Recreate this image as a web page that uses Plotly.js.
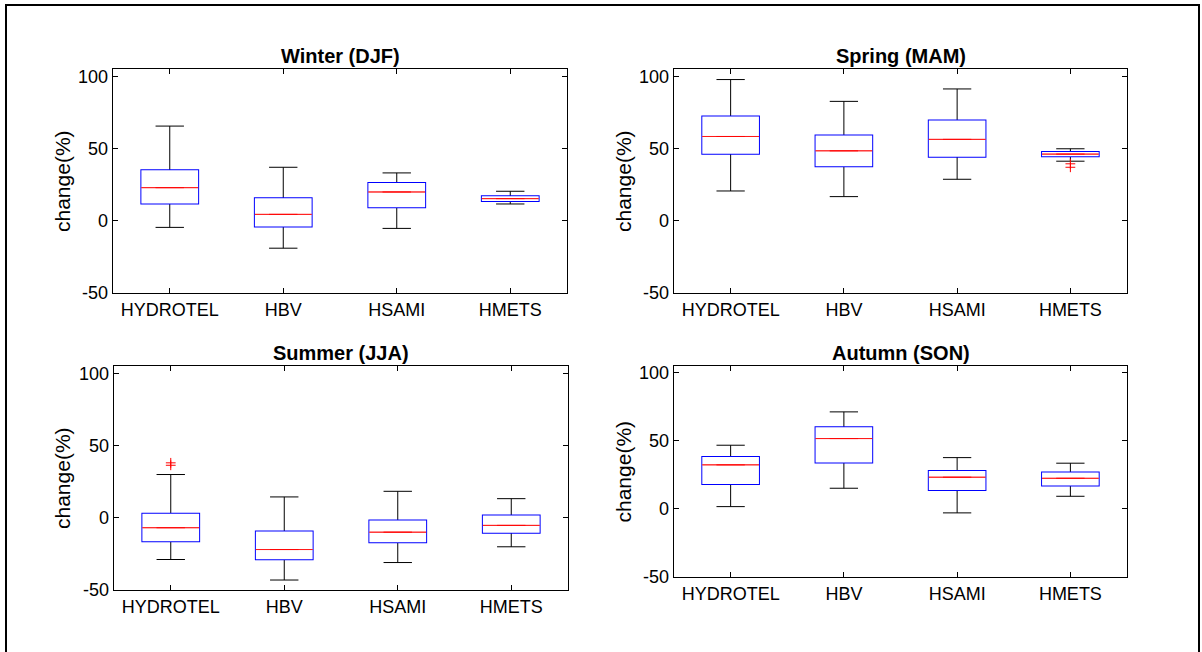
<!DOCTYPE html>
<html>
<head>
<meta charset="utf-8">
<script src="https://cdn.plot.ly/plotly-3.0.1.min.js"></script>
<style>
html,body{margin:0;padding:0;background:#fff;}
#chart{width:1202px;height:652px;}
</style>
</head>
<body>
<div id="chart"></div>
<script>
// ---- data ----
const models = ['HYDROTEL', 'HBV', 'HSAMI', 'HMETS'];
const positions = [1, 2, 3, 4];
const yRange = [-50, 105];
const yTickVals = [-50, 0, 50, 100];
const yTickText = ['-50', '0', '50', '100'];
const seasonTitles = ['Winter (DJF)', 'Spring (MAM)', 'Summer (JJA)', 'Autumn (SON)'];
const yLabel = 'change(%)';

// Winter (DJF)
const winterLow  = [-4.6, -19.0, -5.3, 11.6];
const winterQ1   = [12.0, -3.9, 9.3, 13.7];
const winterMed  = [22.9, 4.4, 19.9, 15.3];
const winterQ3   = [35.0, 15.5, 26.2, 16.9];
const winterHigh = [65.5, 37.0, 33.1, 20.4];
const winterOutX = [];
const winterOutY = [];

// Spring (MAM)
const springLow  = [20.6, 16.7, 28.7, 41.2];
const springQ1   = [46.3, 37.7, 44.2, 44.7];
const springMed  = [58.3, 48.4, 56.3, 46.1];
const springQ3   = [72.2, 59.0, 69.4, 47.5];
const springHigh = [97.7, 82.6, 91.2, 49.8];
const springOutX = [4, 4];
const springOutY = [39.4, 37.0];

// Summer (JJA)
const summerLow  = [-28.9, -43.1, -31.0, -20.1];
const summerQ1   = [-16.2, -28.7, -16.9, -10.4];
const summerMed  = [-6.9, -22.0, -10.0, -5.3];
const summerQ3   = [2.8, -9.5, -1.9, 1.6];
const summerHigh = [29.9, 14.4, 18.3, 13.2];
const summerOutX = [1, 1];
const summerOutY = [38.0, 36.3];

// Autumn (SON)
const autumnLow  = [1.7, 15.2, -2.9, 9.3];
const autumnQ1   = [18.4, 34.1, 14.0, 17.2];
const autumnMed  = [32.4, 51.7, 23.3, 22.5];
const autumnQ3   = [38.2, 60.0, 27.9, 26.7];
const autumnHigh = [46.8, 71.3, 37.7, 33.6];
const autumnOutX = [];
const autumnOutY = [];

// ---- layout geometry (pixels) ----
const W = 1202, H = 652;
const panels = [
  {xa: 'x',  ya: 'y',  left: 113, right: 567,  top: 69,  bottom: 293, ylab: 62},
  {xa: 'x2', ya: 'y2', left: 674, right: 1127, top: 69,  bottom: 293, ylab: 623},
  {xa: 'x3', ya: 'y3', left: 114, right: 568,  top: 366, bottom: 590, ylab: 62},
  {xa: 'x4', ya: 'y4', left: 674, right: 1127, top: 366, bottom: 577, ylab: 623}
];
const seasons = [
  [winterLow, winterQ1, winterMed, winterQ3, winterHigh, winterOutX, winterOutY],
  [springLow, springQ1, springMed, springQ3, springHigh, springOutX, springOutY],
  [summerLow, summerQ1, summerMed, summerQ3, summerHigh, summerOutX, summerOutY],
  [autumnLow, autumnQ1, autumnMed, autumnQ3, autumnHigh, autumnOutX, autumnOutY]
];

const FONT = 'Liberation Sans, Arial, sans-serif';
const traces = [];
const layout = {
  width: W, height: H,
  margin: {l: 0, r: 0, t: 0, b: 0},
  paper_bgcolor: '#fff', plot_bgcolor: '#fff',
  showlegend: false,
  boxmode: 'overlay',
  font: {family: FONT, color: '#000'},
  annotations: [],
  shapes: [{
    type: 'rect', xref: 'paper', yref: 'paper',
    x0: 6 / W, x1: 1199 / W, y0: 1 - 5 / H, y1: -0.05,
    line: {color: '#000', width: 2}, fillcolor: 'rgba(0,0,0,0)', layer: 'above'
  }]
};

panels.forEach((p, i) => {
  const [low, q1, med, q3, high, outX, outY] = seasons[i];
  const common = {
    type: 'box', orientation: 'v', x: positions, xaxis: p.xa, yaxis: p.ya,
    width: 0.5, whiskerwidth: 0.5, hoverinfo: 'skip', boxpoints: false
  };
  // 1) whiskers (black): collapsed box at the median, whiskers out to the fences
  traces.push(Object.assign({}, common, {
    q1: med, median: med, q3: med, lowerfence: low, upperfence: high,
    line: {color: '#000', width: 1}, fillcolor: 'rgba(0,0,0,0)'
  }));
  // 2) box outline (blue); its inner half is hidden by the next layer
  traces.push(Object.assign({}, common, {
    q1: q1, median: med, q3: q3, lowerfence: q1, upperfence: q3,
    line: {color: '#0000ff', width: 2}, fillcolor: '#ffffff'
  }));
  // 3) white interior (no outline) hiding whisker and blue median inside the box
  traces.push(Object.assign({}, common, {
    q1: q1, median: med, q3: q3, lowerfence: q1, upperfence: q3,
    line: {color: '#ffffff', width: 0}, fillcolor: '#ffffff'
  }));
  // 4) median (red); several strokes coincide here, so a thin width reads as ~1px
  traces.push(Object.assign({}, common, {
    q1: med, median: med, q3: med, lowerfence: med, upperfence: med,
    line: {color: '#ff0000', width: 0.55}, fillcolor: 'rgba(0,0,0,0)'
  }));
  // outliers
  if (outY.length) {
    traces.push({
      type: 'scatter', mode: 'markers', x: outX, y: outY, xaxis: p.xa, yaxis: p.ya,
      hoverinfo: 'skip',
      marker: {symbol: 'cross-thin-open', size: 7, color: '#ff0000', line: {color: '#ff0000', width: 1}}
    });
  }

  const sfx = i === 0 ? '' : String(i + 1);
  layout['xaxis' + sfx] = {
    domain: [p.left / W, p.right / W], anchor: p.ya,
    range: [0.5, 4.5], tickmode: 'array', tickvals: positions, ticktext: models,
    ticks: 'inside', ticklen: 5, tickwidth: 1, tickcolor: '#000',
    showline: true, linecolor: '#000', linewidth: 1.3, mirror: 'ticks',
    showgrid: false, zeroline: false, fixedrange: true,
    tickfont: {family: FONT, size: 18, color: '#000'}
  };
  layout['yaxis' + sfx] = {
    domain: [1 - p.bottom / H, 1 - p.top / H], anchor: p.xa,
    range: yRange, tickmode: 'array', tickvals: yTickVals, ticktext: yTickText,
    ticks: 'inside', ticklen: 5, tickwidth: 1, tickcolor: '#000',
    showline: true, linecolor: '#000', linewidth: 1.3, mirror: 'ticks',
    showgrid: false, zeroline: false, fixedrange: true,
    tickfont: {family: FONT, size: 18, color: '#000'}
  };
  // subplot title
  layout.annotations.push({
    text: '<b>' + seasonTitles[i] + '</b>', xref: 'paper', yref: 'paper',
    x: (p.left + p.right) / 2 / W, y: 1 - p.top / H, xanchor: 'center', yanchor: 'bottom',
    yshift: 0, showarrow: false, font: {family: FONT, size: 20, color: '#000'}
  });
  // y label
  layout.annotations.push({
    text: yLabel, xref: 'paper', yref: 'paper', textangle: -90,
    x: p.ylab / W, y: 1 - (p.top + p.bottom) / 2 / H, xanchor: 'center', yanchor: 'middle',
    showarrow: false, font: {family: FONT, size: 21, color: '#000'}
  });
});

Plotly.newPlot('chart', traces, layout, {staticPlot: true, displayModeBar: false});
</script>
</body>
</html>
